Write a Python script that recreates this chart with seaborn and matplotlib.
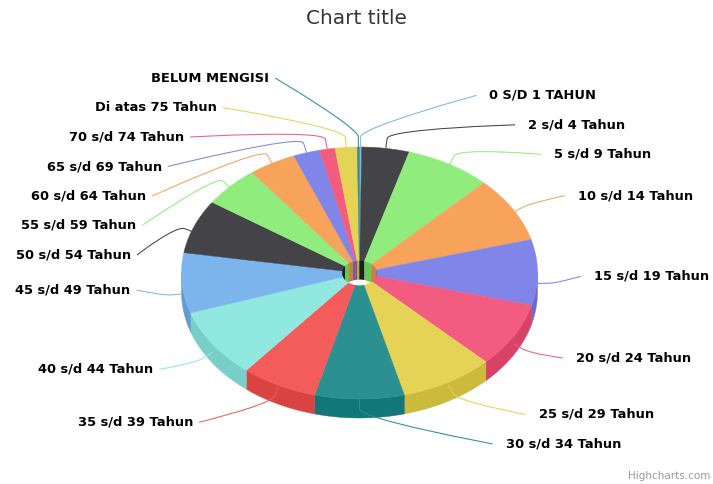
import numpy as np
import matplotlib

matplotlib.use("Agg")
import matplotlib.pyplot as plt
import seaborn as sns
from matplotlib.patches import Polygon, Ellipse, PathPatch
from matplotlib.path import Path
from matplotlib.colors import to_rgb


# Age groups and the number of people in each one.
age_groups = [
    "0 S/D 1 TAHUN", "2 s/d 4 Tahun", "5 s/d 9 Tahun", "10 s/d 14 Tahun",
    "15 s/d 19 Tahun", "20 s/d 24 Tahun", "25 s/d 29 Tahun", "30 s/d 34 Tahun",
    "35 s/d 39 Tahun", "40 s/d 44 Tahun", "45 s/d 49 Tahun", "50 s/d 54 Tahun",
    "55 s/d 59 Tahun", "60 s/d 64 Tahun", "65 s/d 69 Tahun", "70 s/d 74 Tahun",
    "Di atas 75 Tahun", "BELUM MENGISI",
]
counts = [2, 43, 78, 84, 84, 83, 85, 81, 69, 89, 77, 69, 52, 43, 24, 14, 20, 2]

# Default Highcharts colour cycle.
highcharts_colors = [
    "#7cb5ec", "#434348", "#90ed7d", "#f7a35c", "#8085e9",
    "#f15c80", "#e4d354", "#2b908f", "#f45b5b", "#91e8e1",
]

# Geometry of the tilted pie, in pixels.
CX, CY = 359.5, 273.0
RX, RY = 178.0, 126.0
DEPTH = 19.0
HOLE_RX = 17.5
HOLE_RY = HOLE_RX * RY / RX

# Ellipse that the data labels sit on.
LAB_CX, LAB_CY, LAB_RX, LAB_RY = 362.0, 275.0, 232.0, 215.0
NAT_CY, NAT_R_BACK, NAT_R_FRONT = 277.0, 160.0, 163.0
LAB_STEP = 29.5


def rim(t, rx=RX, ry=RY, dy=0.0):
    # Point on the pie rim, t in degrees clockwise from 12 o'clock.
    r = np.radians(t)
    return np.column_stack([CX + rx * np.sin(r), CY - ry * np.cos(r) + dy])


def darker(color, amount=0.1):
    return tuple(np.clip(np.array(to_rgb(color)) - amount, 0, 1))


def spread(targets, step, lo, hi):
    # Push overlapping labels apart, keeping each group around its mean.
    targets = np.asarray(targets, dtype=float)
    order = list(np.argsort(targets))
    groups = [[i] for i in order]

    def top_of(g):
        n = len(g)
        top = targets[g].mean() - (n - 1) * step / 2
        return min(max(top, lo), hi - (n - 1) * step)

    merged = True
    while merged:
        merged = False
        for k in range(len(groups) - 1):
            a, b = groups[k], groups[k + 1]
            if top_of(a) + len(a) * step > top_of(b):
                groups[k:k + 2] = [a + b]
                merged = True
                break
    out = np.zeros(len(targets))
    for g in groups:
        top = top_of(g)
        for j, i in enumerate(g):
            out[i] = top + j * step
    return out


sns.set_theme(style="white")
plt.rcParams["font.family"] = ["DejaVu Sans"]
palette = sns.color_palette(highcharts_colors)
colors = [palette[i % len(palette)] for i in range(len(counts))]

values = np.array(counts, dtype=float)
edges = np.concatenate([[0], np.cumsum(values)]) / values.sum() * 360
mids = (edges[:-1] + edges[1:]) / 2

fig = plt.figure(figsize=(7.13, 4.84), dpi=100)
ax = fig.add_axes([0, 0, 1, 1])
ax.set_xlim(0, 713)
ax.set_ylim(484, 0)
ax.axis("off")

# Outer side walls of the front half.
for t0, t1, c in zip(edges[:-1], edges[1:], colors):
    lo, hi = max(t0, 90), min(t1, 270)
    if lo >= hi:
        continue
    ts = np.linspace(lo, hi, 60)
    pts = np.vstack([rim(ts), rim(ts[::-1], dy=DEPTH)])
    ax.add_patch(Polygon(pts, closed=True, facecolor=darker(c),
                         edgecolor=darker(c), linewidth=0.3, zorder=1))

# Top faces.
for t0, t1, c in zip(edges[:-1], edges[1:], colors):
    ts = np.linspace(t0, t1, max(3, int((t1 - t0) * 2)))
    pts = np.vstack([[CX, CY], rim(ts)])
    ax.add_patch(Polygon(pts, closed=True, facecolor=c, edgecolor=c,
                         linewidth=0.3, zorder=2))

# Small hole in the middle: back inner walls and the opening underneath.
hole = Ellipse((CX, CY), 2 * HOLE_RX, 2 * HOLE_RY, transform=ax.transData)
for t0, t1, c in zip(edges[:-1], edges[1:], colors):
    for lo, hi in [(max(t0, 0), min(t1, 90)), (max(t0, 270), min(t1, 360))]:
        if lo >= hi:
            continue
        ts = np.linspace(lo, hi, 30)
        pts = np.vstack([rim(ts, HOLE_RX, HOLE_RY),
                         rim(ts[::-1], HOLE_RX, HOLE_RY, dy=DEPTH)])
        wall = Polygon(pts, closed=True, facecolor=darker(c, 0.15),
                       edgecolor="none", zorder=3)
        ax.add_patch(wall)
        wall.set_clip_path(hole)
floor = Ellipse((CX, CY + DEPTH), 2 * HOLE_RX, 2 * HOLE_RY,
                facecolor="white", edgecolor="none", zorder=3)
ax.add_patch(floor)
floor.set_clip_path(hole)

# Data labels with soft connectors.
cos_mid = np.cos(np.radians(mids))
natural = NAT_CY - np.where(cos_mid > 0, NAT_R_BACK, NAT_R_FRONT) * cos_mid
right = mids <= 180 + 1e-9
label_y = np.zeros(len(mids))
for side in (right, ~right):
    idx = np.where(side)[0]
    label_y[idx] = spread(natural[idx], LAB_STEP, 78, 470)

for i, (name, mid, c) in enumerate(zip(age_groups, mids, colors)):
    y = label_y[i]
    off = LAB_RX * np.sqrt(max(0.0, 1 - ((y - LAB_CY) / LAB_RY) ** 2))
    r = np.radians(mid)
    s, co = np.sin(r), np.cos(r)
    shift = 11 * s ** 2 * (1 - max(co, 0))
    anchor = rim(np.array([mid]), dy=shift)[0]
    brk = anchor + 10 * np.array([s, -co])
    if right[i]:
        tx = LAB_CX + off
        start = np.array([tx - 13, y])
        ax.text(tx, y, name, ha="left", va="center", fontsize=9.4,
                fontweight="bold", color="#000000", zorder=6)
    else:
        tx = LAB_CX - off
        start = np.array([tx + 6, y])
        ax.text(tx, y, name, ha="right", va="center", fontsize=9.4,
                fontweight="bold", color="#000000", zorder=6)
    verts = [start, start, 2 * brk - anchor, brk, anchor]
    codes = [Path.MOVETO, Path.CURVE4, Path.CURVE4, Path.CURVE4, Path.LINETO]
    ax.add_patch(PathPatch(Path(verts, codes), facecolor="none", edgecolor=c,
                           linewidth=0.75, zorder=5))

ax.text(356.5, 18, "Chart title", ha="center", va="center", fontsize=14.4,
        color="#333333")
ax.text(710, 476, "Highcharts.com", ha="right", va="center", fontsize=7.5,
        color="#999999")

fig.savefig("out.png", dpi=100, facecolor="white")
